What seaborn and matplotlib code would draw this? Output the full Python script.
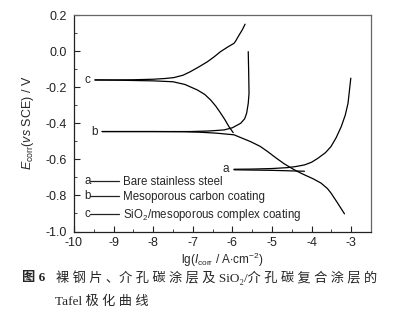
import numpy as np
import pandas as pd
import matplotlib
matplotlib.use("Agg")
import matplotlib.pyplot as plt
import seaborn as sns
from matplotlib.lines import Line2D
from matplotlib.ticker import MultipleLocator

# ---- data ----
a_an_lg = [-5.96, -5.5, -5.0, -4.61, -4.40, -4.18, -4.00, -3.84, -3.65, -3.51, -3.38, -3.25, -3.15, -3.08, -3.01]
a_an_E = [-0.655, -0.654, -0.651, -0.646, -0.640, -0.631, -0.616, -0.594, -0.563, -0.529, -0.480, -0.418, -0.355, -0.289, -0.150]
a_ca_lg = [-5.96, -5.0, -4.18]
a_ca_E = [-0.658, -0.661, -0.666]

b_an_lg = [-9.29, -8.5, -7.5, -7.06, -6.6, -6.21, -6.0, -5.79, -5.69, -5.64, -5.60, -5.58, -5.585, -5.59, -5.60]
b_an_E = [-0.446, -0.446, -0.446, -0.446, -0.443, -0.437, -0.425, -0.400, -0.375, -0.344, -0.290, -0.234, -0.170, -0.105, -0.003]
b_ca_lg = [-9.29, -8.0, -7.2, -6.80, -6.40, -5.96, -5.54, -5.30, -5.11, -4.90, -4.69, -4.50, -4.35, -4.18, -3.96, -3.76, -3.60, -3.51, -3.35, -3.17]
b_ca_E = [-0.446, -0.446, -0.447, -0.450, -0.455, -0.464, -0.502, -0.528, -0.557, -0.592, -0.625, -0.650, -0.668, -0.686, -0.708, -0.732, -0.762, -0.787, -0.840, -0.902]

c_an_lg = [-9.47, -9.0, -8.5, -8.0, -7.7, -7.48, -7.25, -7.06, -6.85, -6.63, -6.45, -6.30, -6.10, -5.96, -5.92, -5.83, -5.75, -5.68]
c_an_E = [-0.160, -0.160, -0.159, -0.156, -0.152, -0.147, -0.134, -0.114, -0.088, -0.059, -0.030, -0.003, 0.025, 0.043, 0.055, 0.089, 0.118, 0.149]
c_ca_lg = [-9.47, -9.0, -8.5, -8.0, -7.5, -7.2, -6.89, -6.7, -6.55, -6.42, -6.30, -6.19, -6.09, -5.98]
c_ca_E = [-0.160, -0.161, -0.163, -0.165, -0.170, -0.185, -0.215, -0.240, -0.271, -0.305, -0.343, -0.380, -0.418, -0.452]

series_letters = ["a", "b", "c"]
series_names = ["Bare stainless steel", "Mesoporous carbon coating",
                "SiO$_2$/mesoporous complex coating"]
x_ticks = [-10, -9, -8, -7, -6, -5, -4, -3]
y_ticks = [-1.0, -0.8, -0.6, -0.4, -0.2, 0.0, 0.2]

branches = {
    "a_an": (a_an_lg, a_an_E), "a_ca": (a_ca_lg, a_ca_E),
    "b_an": (b_an_lg, b_an_E), "b_ca": (b_ca_lg, b_ca_E),
    "c_an": (c_an_lg, c_an_E), "c_ca": (c_ca_lg, c_ca_E),
}
frames = []
for k, (xs, ys) in branches.items():
    frames.append(pd.DataFrame({"lg": xs, "E": ys, "branch": k,
                                "order": np.arange(len(xs))}))
df = pd.concat(frames, ignore_index=True)

sns.set_theme(style="ticks")
plt.rcParams["font.family"] = ["Liberation Sans", "DejaVu Sans"]
plt.rcParams["mathtext.fontset"] = "custom"
plt.rcParams["mathtext.rm"] = "Liberation Sans"
plt.rcParams["mathtext.it"] = "Liberation Sans:italic"

fig = plt.figure(figsize=(4.05, 3.29), dpi=100)
ax = fig.add_axes([74 / 405, 1 - 231.5 / 329, (371 - 74) / 405, (231.5 - 15) / 329])

sns.lineplot(data=df, x="lg", y="E", units="branch", estimator=None, sort=False,
             color="black", linewidth=0.9, ax=ax, legend=False)

ax.set_xlim(-10, -2.5)
ax.set_ylim(-1.0, 0.2)
ax.set_xticks(x_ticks)
ax.set_xticklabels([str(t) for t in x_ticks])
ax.set_yticks(y_ticks)
ax.set_yticklabels([f"{t:.1f}" for t in y_ticks])
ax.xaxis.set_minor_locator(MultipleLocator(0.5))
ax.yaxis.set_minor_locator(MultipleLocator(0.1))
ax.tick_params(which="major", direction="in", length=4, width=0.8, labelsize=9, colors="#222222")
ax.tick_params(axis="x", which="major", pad=4)
ax.tick_params(axis="y", which="major", pad=5)
ax.tick_params(which="minor", direction="in", length=2, width=0.6)
for s in ["left", "bottom"]:
    ax.spines[s].set_color("#222222")
    ax.spines[s].set_linewidth(0.9)
for s in ["top", "right"]:
    ax.spines[s].set_color("#666666")
    ax.spines[s].set_linewidth(0.9)

ax.set_xlabel(r"lg($I_{\mathrm{corr}}$ / A$\cdot$cm$^{-2}$)", fontsize=8.5, labelpad=1)
ax.set_ylabel(r"$E_{\mathrm{corr}}$($vs$ SCE) / V", fontsize=9, labelpad=7)

# curve labels
ax.text(c_an_lg[0] - 0.12, c_an_E[0], "c", ha="right", va="center", fontsize=8.5)
ax.text(b_an_lg[0] - 0.12, b_an_E[0], "b", ha="right", va="center", fontsize=8.5)
ax.text(a_an_lg[0] - 0.12, a_an_E[0], "a", ha="right", va="center", fontsize=8.5)

# legend
handles = [Line2D([], [], color="#222222", lw=0.9) for _ in series_names]
leg = ax.legend(handles, series_names, loc="lower left", bbox_to_anchor=(0.04, 0.02),
                frameon=False, fontsize=8.3, handlelength=2.5, handletextpad=0.3,
                labelspacing=0.3, borderaxespad=0.0)
fig.canvas.draw()
inv = ax.transAxes.inverted()
for h, letter in zip(leg.legend_handles, series_letters):
    bb = h.get_window_extent(fig.canvas.get_renderer())
    x0, y0 = inv.transform((bb.x0, (bb.y0 + bb.y1) / 2))
    ax.text(x0, y0, letter, transform=ax.transAxes, ha="right", va="center", fontsize=8.3)

# caption
cap_fam = ["Liberation Serif", "Noto Sans CJK SC", "DejaVu Sans"]
fig.text(22 / 405, 1 - 278 / 329, "图 6", fontsize=9.5, fontweight="bold", family=cap_fam, va="center")
fig.text(56 / 405, 1 - 278 / 329, "裸 钢 片 、介 孔 碳 涂 层 及 SiO₂/介 孔 碳 复 合 涂 层 的",
         fontsize=9.5, family=cap_fam, va="center")
fig.text(55 / 405, 1 - 302 / 329, "Tafel 极 化 曲 线", fontsize=9.5, family=cap_fam, va="center")

fig.savefig("out.png", dpi=100)
